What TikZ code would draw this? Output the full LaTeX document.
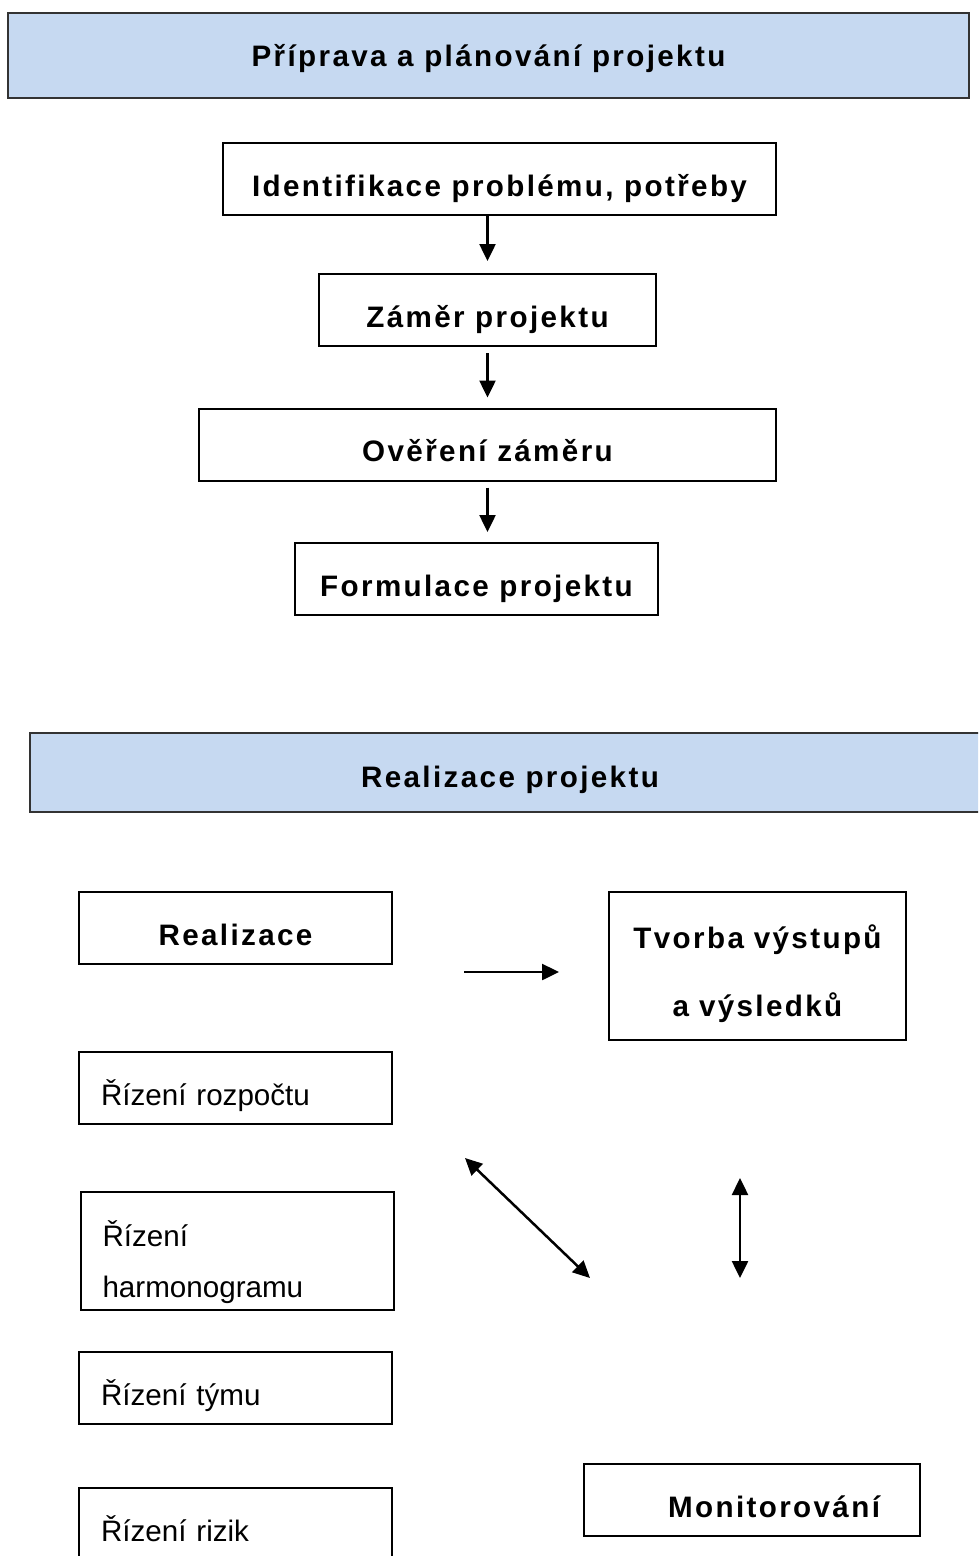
\documentclass[tikz,border=0pt]{standalone}
\usepackage{fontspec}
\setmainfont{Liberation Sans}
\newfontfamily\spacedfont[LetterSpace=8]{Liberation Sans}
\usetikzlibrary{arrows.meta}
\definecolor{bannerblue}{RGB}{198,217,241}

\tikzset{
  banner/.style={draw=black!80, line width=2pt, fill=bannerblue,
    font=\spacedfont\bfseries\fontsize{29.6}{36}\selectfont, text depth=3pt},
  stepbox/.style={draw, line width=2pt, minimum height=72pt,
    font=\spacedfont\bfseries\fontsize{29.6}{68}\selectfont},
  taskbox/.style={draw, line width=2pt, minimum height=72pt, inner xsep=22pt,
    text width=269pt, align=left, font=\fontsize{29.6}{51}\selectfont},
  oneline/.style={text height=37pt, text depth=3pt},
  flow/.style={-{Triangle[length=17pt,width=16pt]}, line width=2.5pt},
  twoway/.style={{Triangle[length=17pt,width=16pt]}-{Triangle[length=17pt,width=16pt]}, line width=2.5pt}
}

\begin{document}
\begin{tikzpicture}[x=1pt, y=-1pt]
  \useasboundingbox (0,0) rectangle (978,1556);
  \clip (0,0) rectangle (978,1556);

  \node[banner, minimum width=961pt, minimum height=85pt, text height=25pt] (prep) at (488.5,55.5) {Příprava a plánování projektu};
  \node[stepbox, oneline, minimum width=553pt] (idf) at (499.5,179) {Identifikace problému, potřeby};
  \node[stepbox, oneline, minimum width=337pt] (zam) at (487.5,310) {Záměr projektu};
  \node[stepbox, oneline, minimum width=577pt] (ove) at (487.5,444.5) {Ověření záměru};
  \node[stepbox, oneline, minimum width=363pt] (frm) at (476.5,579) {Formulace projektu};
  \draw[flow] (zam.north |- idf.south) -- ([yshift=12pt]zam.north);
  \draw[flow] ([yshift=-6pt]zam.south) -- ([yshift=10pt]ove.north);
  \draw[flow] ([yshift=-6pt]ove.south) -- ([yshift=10pt]ove.south |- frm.north);

  \node[banner, minimum width=960pt, minimum height=79pt, text height=32pt] (real) at (510,772.5) {Realizace projektu};
  \node[stepbox, oneline, minimum width=313pt] (rea) at (235.5,928) {Realizace};
  \node[stepbox, text width=260pt, inner xsep=18.5pt, align=center, minimum height=148pt] (tvo) at (757.5,966) {\rule{0pt}{40pt}Tvorba výstupů\\a výsledků};
  \node[taskbox, oneline] (roz) at (235.5,1088) {Řízení rozpočtu};
  \node[taskbox, minimum height=118pt] (har) at (237,1251) {\rule{0pt}{48pt}Řízení\\harmonogramu};
  \node[taskbox, oneline] (tym) at (235.5,1388) {Řízení týmu};
  \node[taskbox, oneline] (riz) at (235.5,1524) {Řízení rizik};
  \node[stepbox, oneline, text width=256pt, align=right, inner xsep=40pt] (mon) at (752,1500) {Monitorování};

  \coordinate (r1) at (464,972);
  \coordinate (r2) at (559,972);
  \coordinate (d1) at (465,1158);
  \coordinate (d2) at (590,1278);
  \coordinate (v1) at (740,1178);
  \coordinate (v2) at (740,1278);
  \draw[flow] (r1) -- (r2);
  \draw[twoway] (d1) -- (d2);
  \draw[twoway] (v1) -- (v2);
\end{tikzpicture}
\end{document}
